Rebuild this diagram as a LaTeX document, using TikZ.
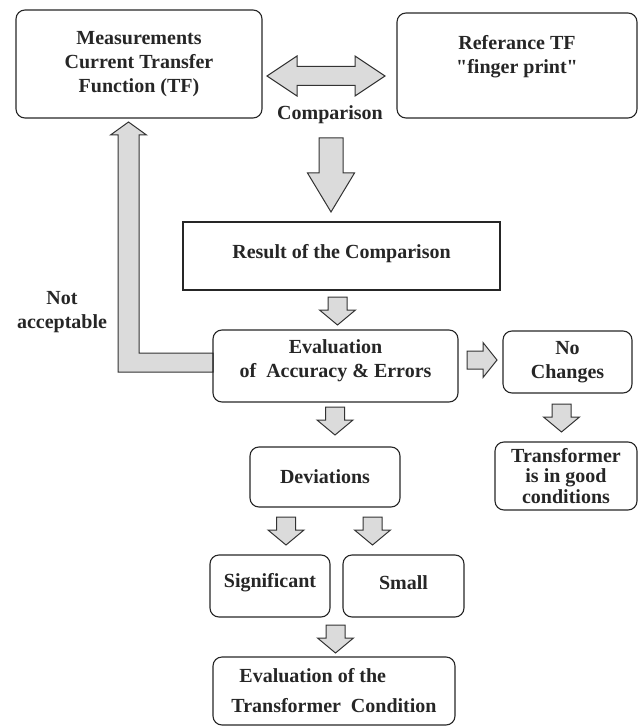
\documentclass[tikz,border=0pt]{standalone}
\usepackage{fontspec}
\setmainfont{Liberation Serif}
\usetikzlibrary{calc}
\def\ShaftW{9.5}
\def\HeadW{18}
\def\HeadAt{13}
\def\ArrowLength{28}
\def\Round{9}

\tikzset{
  box/.style={draw=black!85, line width=1.1pt, rounded corners=\Round pt,
    align=center, inner sep=0pt, text=black!85,
    font=\fontsize{20}{24}\selectfont\bfseries},
  plainbox/.style={box, sharp corners},
  packed/.style={font=\fontsize{20}{20.5}\selectfont\bfseries},
  labeltext/.style={text=black!85, inner sep=0pt,
    font=\fontsize{20}{24}\selectfont\bfseries},
  blockarrow/.style={fill=gray!28, draw=black!80, line width=1pt},
  pics/downarrow/.style={code={
    \filldraw[blockarrow] (-\ShaftW,0) -- (\ShaftW,0) -- (\ShaftW,\HeadAt)
      -- (\HeadW,\HeadAt) -- (0,\ArrowLength) -- (-\HeadW,\HeadAt)
      -- (-\ShaftW,\HeadAt) -- cycle;}}
}

\begin{document}
\begin{tikzpicture}[x=1pt,y=-1pt]
  \useasboundingbox (0,0) rectangle (640,727);
  % feedback arrow
  \filldraw[blockarrow] (118,372) -- (118,135) -- (110.5,135) -- (128.5,122)
    -- (146.5,135) -- (139,135) -- (139,353) -- (213,353) -- (213,372) -- cycle;
  % boxes
  \node[box, minimum width=246pt, minimum height=108pt] (meas) at (139,64)
    {Measurements\\Current\ Transfer\\Function (TF)};
  \node[box, minimum width=240pt, minimum height=105pt, text depth=23pt] (ref) at (517,65.5)
    {Referance TF\\\textquotedbl finger print\textquotedbl};
  \node[plainbox, minimum width=317pt, minimum height=68pt, text depth=10pt] (res) at (341.5,256)
    {Result of the Comparison};
  \node[box, minimum width=245pt, minimum height=72pt, text depth=15pt] (eval) at (335.5,366)
    {Evaluation\\of~ Accuracy \& Errors};
  \node[box, minimum width=129pt, minimum height=62pt] (noch) at (567.5,362)
    {No\\Changes};
  \node[box, packed, minimum width=142pt, minimum height=68pt] (good) at (566,476)
    {Transformer\\is in good\\conditions};
  \node[box, minimum width=150pt, minimum height=60pt] (dev) at (325,477)
    {Deviations};
  \node[box, minimum width=120pt, minimum height=62pt, text depth=12pt] (sig) at (270,586)
    {Significant};
  \node[box, minimum width=121pt, minimum height=62pt, text depth=6pt] (small) at (403.5,586)
    {Small};
  \node[box, align=left, minimum width=242pt, minimum height=68pt] (cond) at (334,691)
    {\hspace*{8pt}Evaluation of the\\[6pt]Transformer~ Condition};
  % labels
  \node[labeltext] (comp) at (330,115) {Comparison};
  \node[labeltext, align=center] (notacc) at (62,312) {Not\\acceptable};
  % comparison arrows
  \filldraw[blockarrow] (267,76) -- (297,56) -- (297,66.5) -- (355,66.5) -- (355,56)
    -- (385,76) -- (355,96) -- (355,85.5) -- (297,85.5) -- (297,96) -- cycle;
  \filldraw[blockarrow] (319,138) -- (343,138) -- (343,173) -- (354.5,173) -- (331,212)
    -- (307.5,173) -- (319,173) -- cycle;
  % to no changes
  \filldraw[blockarrow] (467,351) -- (483,351) -- (483,342.5) -- (497,360)
    -- (483,377.5) -- (483,369) -- (467,369) -- cycle;
  % small arrows
  \foreach \ax/\ay in {337.5/297, 335/407, 561.5/404, 286/517, 372.5/517, 335.5/625}
    {
      \pic at (\ax,\ay) {downarrow};
    }
\end{tikzpicture}
\end{document}
